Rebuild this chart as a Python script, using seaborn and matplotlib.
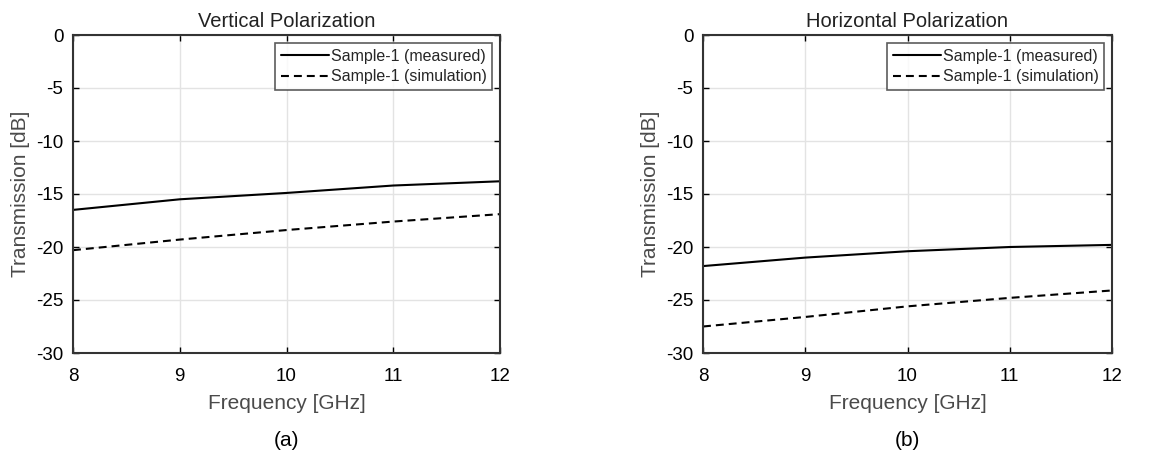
import numpy as np
import pandas as pd
import matplotlib
matplotlib.use("Agg")
import matplotlib.pyplot as plt
import seaborn as sns

freq = [8, 9, 10, 11, 12]
v_measured = [-16.5, -15.5, -14.9, -14.2, -13.8]
v_simulation = [-20.3, -19.3, -18.4, -17.6, -16.9]
h_measured = [-21.8, -21.0, -20.4, -20.0, -19.8]
h_simulation = [-27.5, -26.6, -25.6, -24.8, -24.1]
series_names = ["Sample-1 (measured)", "Sample-1 (simulation)"]
titles = ["Vertical Polarization", "Horizontal Polarization"]
captions = ["(a)", "(b)"]
yticks = [0, -5, -10, -15, -20, -25, -30]
xticks = [8, 9, 10, 11, 12]

sns.set_theme(style="white")
plt.rcParams['font.family'] = ['Liberation Sans', 'DejaVu Sans']
plt.rcParams['axes.unicode_minus'] = False

W, H = 1166, 458
fig = plt.figure(figsize=(W / 100, H / 100), dpi=100)

def make_df(meas, sim):
    return pd.DataFrame({
        "freq": freq * 2,
        "val": meas + sim,
        "series": [series_names[0]] * len(freq) + [series_names[1]] * len(freq),
    })

panels = [
    (make_df(v_measured, v_simulation), (73, 35, 500, 353)),
    (make_df(h_measured, h_simulation), (703, 35, 1112, 353)),
]

label_color = "#4a4a4a"
for i, (df, (x0, y0, x1, y1)) in enumerate(panels):
    ax = fig.add_axes([x0 / W, 1 - y1 / H, (x1 - x0) / W, (y1 - y0) / H])
    sns.lineplot(data=df, x="freq", y="val", style="series", ax=ax,
                 color="black", linewidth=1.5,
                 dashes={series_names[0]: "", series_names[1]: (3.8, 2.4)},
                 style_order=series_names)
    ax.set_xlim(8, 12)
    ax.set_ylim(-30, 0)
    ax.set_xticks(xticks)
    ax.set_yticks(yticks)
    ax.tick_params(axis="both", labelsize=13.5, colors="black", direction="in",
                   length=4, width=1, left=True, bottom=True, top=True, right=True)
    ax.tick_params(axis="x", pad=11)
    ax.tick_params(axis="y", pad=7)
    ax.grid(True, color="#e3e3e3", linewidth=1)
    for s in ax.spines.values():
        s.set_color("#333333")
        s.set_linewidth(1.5)
    ax.set_xlabel("Frequency [GHz]", fontsize=15, color=label_color, labelpad=6)
    ax.set_ylabel("Transmission [dB]", fontsize=15, color=label_color, labelpad=4)
    ax.set_title(titles[i], fontsize=14.5, color="#222222", pad=6)
    leg = ax.legend(loc="upper right", fontsize=11.5, frameon=True, fancybox=False,
                    handlelength=3.0, handletextpad=0.1, borderpad=0.35,
                    labelspacing=0.35, borderaxespad=0.5)
    leg.get_frame().set_edgecolor("#333333")
    leg.get_frame().set_linewidth(1.2)
    cx = (x0 + x1) / 2 / W
    fig.text(cx, 1 - 440 / H, captions[i], ha="center", va="center", fontsize=15,
             color="black")

fig.savefig("out.png", dpi=100)
